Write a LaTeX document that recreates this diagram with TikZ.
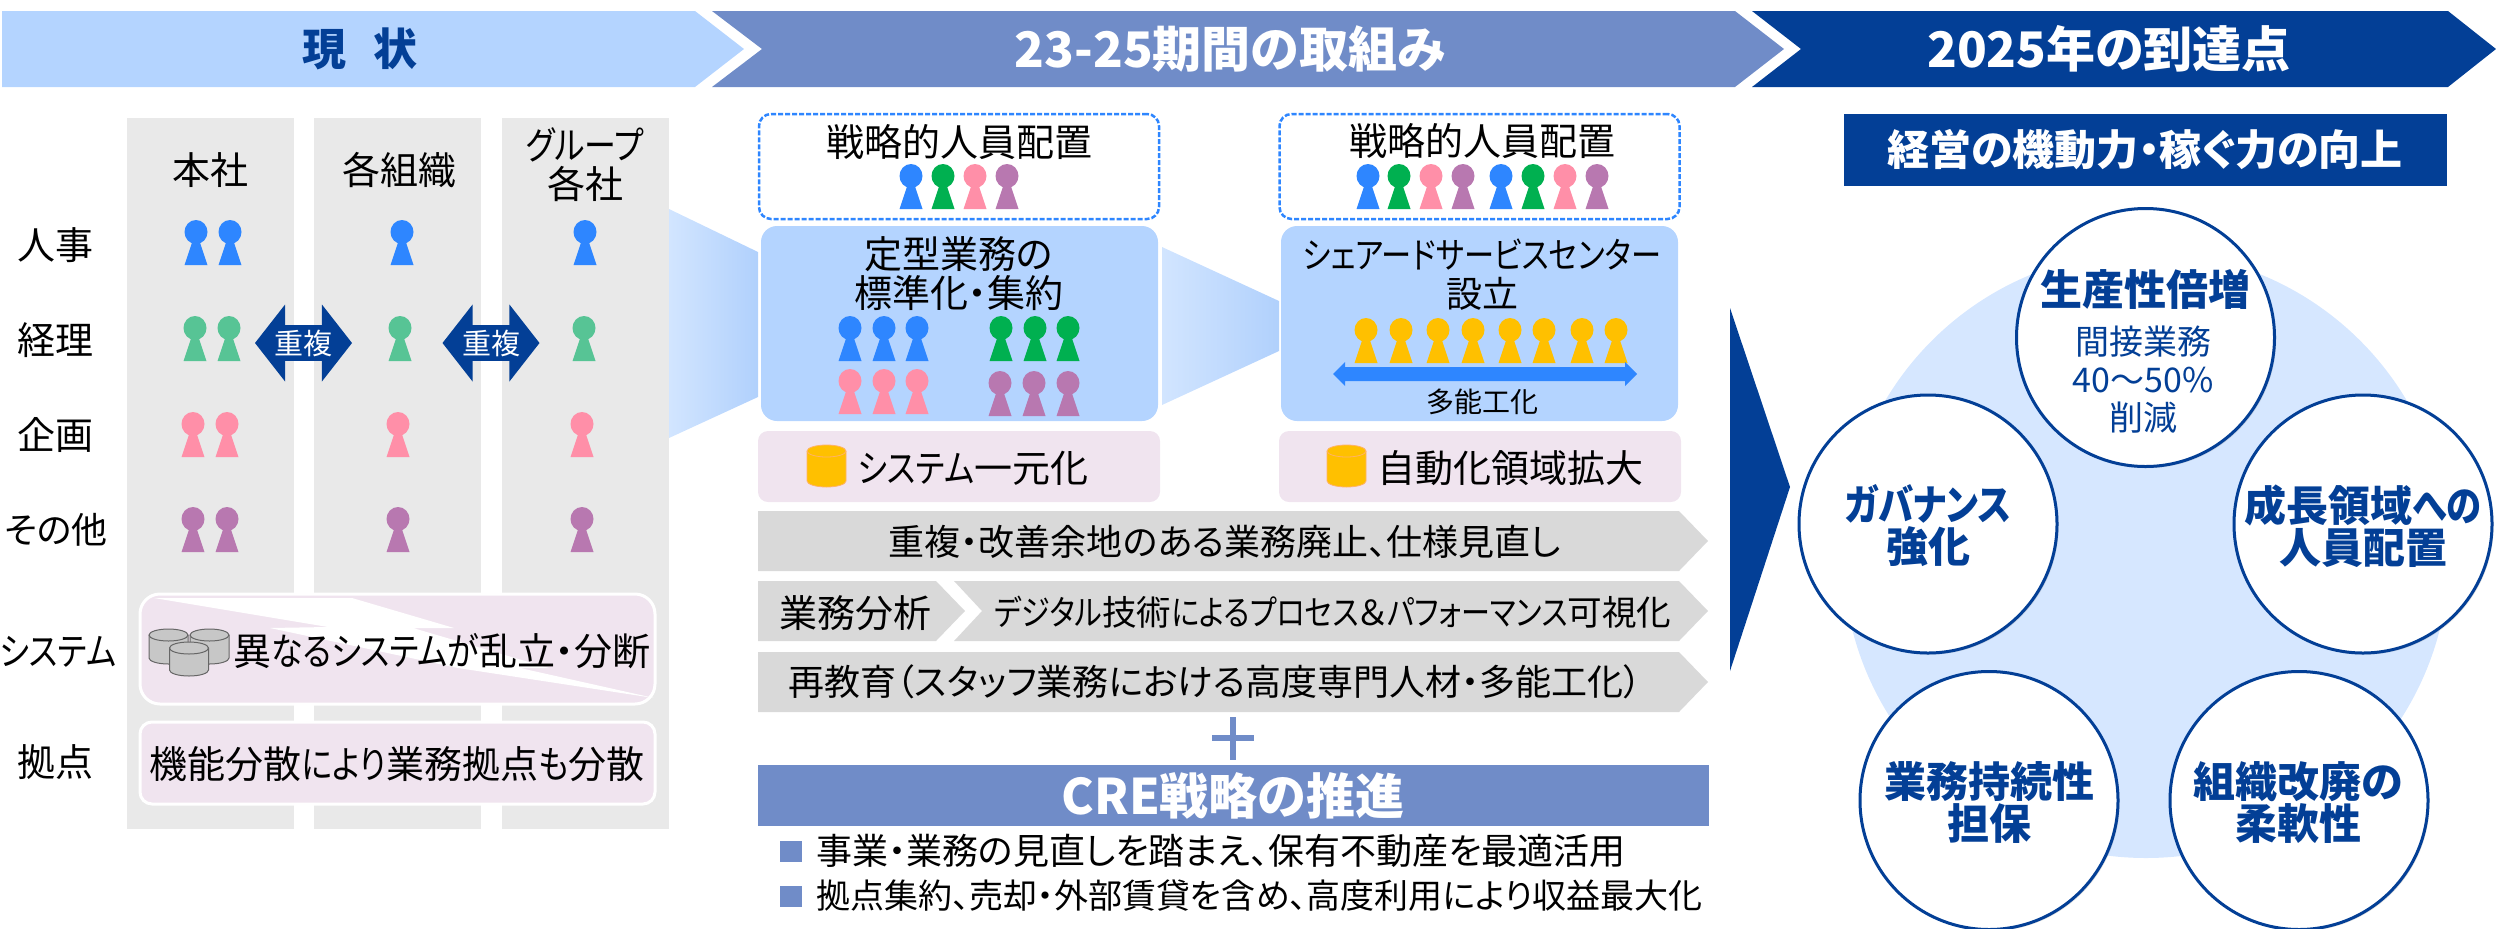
\documentclass[tikz,border=0pt]{standalone}
\usepackage{fontspec}
\setmainfont[RawFeature=+palt]{Noto Sans CJK JP}
\newfontfamily\kanafont[RawFeature=+palt, FakeStretch=0.84]{Noto Sans CJK JP}
\newcommand{\kn}[1]{{\kanafont #1}}
\usetikzlibrary{positioning, shapes.geometric, shapes.arrows, shadows}

\definecolor{hdlight}{HTML}{B4D4FF}
\definecolor{hdmid}{HTML}{708CC8}
\definecolor{hddark}{HTML}{033F96}
\definecolor{colgray}{HTML}{E9E9E9}
\definecolor{barpink}{HTML}{F0E4EF}
\definecolor{bargray}{HTML}{D9D9D9}
\definecolor{pblue}{HTML}{2E86FF}
\definecolor{pgreen}{HTML}{57C495}
\definecolor{pgreenb}{HTML}{00B050}
\definecolor{ppink}{HTML}{FF8FA8}
\definecolor{ppurple}{HTML}{B878B0}
\definecolor{pyellow}{HTML}{FFC000}

\begin{document}
\begin{tikzpicture}[x=0.5pt, y=-0.5pt]
\tikzset{
  lab/.style={inner sep=0pt, align=center, font=\fontsize{18}{19.5}\selectfont},
  labbig/.style={lab, font=\fontsize{19}{19.5}\selectfont},
  labsmall/.style={lab, font=\fontsize{14}{15}\selectfont},
  headtxt/.style={inner sep=0pt, font=\bfseries\fontsize{24.5}{25}\selectfont},
  goal/.style={inner sep=0pt, align=center, text=hddark, font=\bfseries\fontsize{21}{21}\selectfont},
  goalsub/.style={inner sep=0pt, align=center, text=hddark, font=\fontsize{17}{19}\selectfont},
  col/.style={fill=colgray, minimum width=83.5pt, minimum height=355.5pt, inner sep=0pt},
  pinkbox/.style={fill=barpink, rounded corners=5pt, minimum width=201pt, minimum height=35.5pt, inner sep=0pt},
  sysbox/.style={draw=white, line width=1.5pt, fill=barpink, minimum width=257.5pt, inner sep=0pt},
  bluebox/.style={fill=hdlight, rounded corners=8pt, minimum width=198.5pt, minimum height=97.5pt, inner sep=0pt},
  dashbox/.style={draw=pblue, line width=1.25pt, dash pattern=on 2.5pt off 1pt, rounded corners=6pt,
    minimum width=200pt, minimum height=52.5pt, inner sep=0pt},
  goalcirc/.style={circle, draw=hddark, line width=1.5pt, fill=white, minimum size=129pt, inner sep=0pt,
    drop shadow={opacity=0.25, shadow xshift=0.8pt, shadow yshift=-0.8pt}},
  dup/.style={double arrow, fill=hddark, text=white, inner sep=0pt, minimum height=48.5pt, minimum width=38.5pt,
    double arrow head extend=8pt, double arrow tip angle=104, font=\fontsize{14.5}{15}\selectfont},
  dbcan/.style={draw=black!60, line width=0.5pt, fill=black!22},
  goldcan/.style={draw=orange!60, line width=0.4pt, fill=pyellow},
  person/.pic={
    \path[pic actions] (0,12) ellipse [x radius=11.5, y radius=12];
    \path[pic actions] (-3.5,21) -- (3.5,21) -- (11.5,45) -- (-11.5,45) -- cycle;
  },
  can/.pic={
    \path[pic actions] (-19.5,6) -- (-19.5,6+#1) arc [start angle=180, end angle=0, x radius=19.5, y radius=6]
      -- (19.5,6) arc [start angle=0, end angle=-180, x radius=19.5, y radius=6] -- cycle;
    \path[pic actions] (-19.5,6) arc [start angle=180, end angle=0, x radius=19.5, y radius=6];
  }
}
\useasboundingbox (0,0) rectangle (2496,928);

% Header arrows
\fill[hdlight] (2,11) -- (695,11) -- (744,49) -- (695,87) -- (2,87) -- cycle;
\fill[hdmid] (712,11) -- (1735,11) -- (1784,49) -- (1735,87) -- (712,87) -- (762,49) -- cycle;
\fill[hddark] (1752,11) -- (2448,11) -- (2496,49) -- (2448,87) -- (1752,87) -- (1801,49) -- cycle;
\node[headtxt, text=hddark, font=\bfseries\fontsize{22}{24}\selectfont] (hdnow) at (360,49) {現\hspace{14pt}状};
\node[headtxt, text=white] (hdplan) at (1230,49) {23-25期間の取組み};
\node[headtxt, text=white] (hdgoal) at (2109,49) {2025年の到達点};

% Columns
\node[col] (colhq) at (210.5,473.5) {};
\node[col] (colorg) at (397.5,473.5) {};
\node[col] (colgrp) at (585.5,473.5) {};
\node[labbig] (lblhq) at (210,170) {本社};
\node[labbig] (lblorg) at (399,170) {各組織};
\node[labbig] (lblgrp) at (585,165) {\kn{グループ}\\各社};

% Row labels
\node[labbig] (rowhr) at (56,245) {人事};
\node[labbig] (rowacc) at (56,340) {経理};
\node[labbig] (rowplan) at (56,435) {企画};
\node[lab] (rowother) at (56,530) {その他};
\node[labbig] (rowsys) at (58,652) {\kn{システム}};
\node[labbig] (rowsite) at (56,762) {拠点};

% People, current state
\pic[fill=pblue] at (196,220) {person}; \pic[fill=pblue] at (230,220) {person};
\pic[fill=pblue] at (402,220) {person}; \pic[fill=pblue] at (585,220) {person};
\pic[fill=pgreen] at (195,316) {person}; \pic[fill=pgreen] at (229,316) {person};
\pic[fill=pgreen] at (400,316) {person}; \pic[fill=pgreen] at (584,316) {person};
\pic[fill=ppink] at (193,412) {person}; \pic[fill=ppink] at (227,412) {person};
\pic[fill=ppink] at (398,412) {person}; \pic[fill=ppink] at (582,412) {person};
\pic[fill=ppurple] at (193,507) {person}; \pic[fill=ppurple] at (227,507) {person};
\pic[fill=ppurple] at (398,507) {person}; \pic[fill=ppurple] at (582,507) {person};

% Overlap arrows
\node[dup] (dupa) at (303.5,343) {重複};
\node[dup] (dupb) at (491,343) {重複};

% System and site boxes
\node[sysbox, rounded corners=10pt, minimum height=55pt] (sysbar) at (397.5,649) {};
\fill[white] (154,598) -- (352,598) -- (454,628) -- (413,628) -- (549,668) -- (520,668) -- (654,698)
  -- (458,668) -- (270,628) -- (328,627) -- cycle;
\pic[dbcan] at (168.5,629) {can=23};
\pic[dbcan] at (209.5,629) {can=23};
\pic[dbcan] at (189,642) {can=22};
\node[labbig] (systxt) at (442,651) {異\kn{なるシステムが}乱立・分断};
\node[sysbox, rounded corners=6pt, minimum height=41pt] (sitebar) at (397.5,763) {};
\node[labbig] (sitetxt) at (397,764) {機能分散\kn{により}業務拠点\kn{も}分散};

% Gradient arrows between stages
\shade[left color=hdlight!60!white, right color=hdlight!95!hdmid] (669,209) -- (758,252) -- (758,397) -- (669,438) -- cycle;
\shade[left color=hdlight!60!white, right color=hdlight!95!hdmid] (1162,247) -- (1279,301) -- (1279,351) -- (1162,405) -- cycle;

% Staffing boxes
\node[dashbox] (staffa) at (959,166.5) {};
\node[dashbox] (staffb) at (1479.5,166.5) {};
\node[labbig] (stafftxta) at (959,142) {戦略的人員配置};
\node[labbig] (stafftxtb) at (1482,141) {戦略的人員配置};
\pic[fill=pblue] at (911,164) {person}; \pic[fill=pgreenb] at (943,164) {person};
\pic[fill=ppink] at (975,164) {person}; \pic[fill=ppurple] at (1007,164) {person};
\pic[fill=pblue] at (1368,164) {person}; \pic[fill=pgreenb] at (1399,164) {person};
\pic[fill=ppink] at (1431,164) {person}; \pic[fill=ppurple] at (1463,164) {person};
\pic[fill=pblue] at (1501,164) {person}; \pic[fill=pgreenb] at (1533,164) {person};
\pic[fill=ppink] at (1565,164) {person}; \pic[fill=ppurple] at (1597,164) {person};

% Standardisation box
\node[bluebox] (stdbox) at (959.5,323.5) {};
\node[labbig] (stdtxt) at (958.5,273.5) {定型業務の\\標準化・集約};
\pic[fill=pblue] at (850,316) {person}; \pic[fill=pblue] at (884,316) {person}; \pic[fill=pblue] at (917,316) {person};
\pic[fill=pgreenb] at (1001,316) {person}; \pic[fill=pgreenb] at (1035,316) {person}; \pic[fill=pgreenb] at (1068,316) {person};
\pic[fill=ppink] at (850,369) {person}; \pic[fill=ppink] at (884,369) {person}; \pic[fill=ppink] at (917,369) {person};
\pic[fill=ppurple] at (1000,371) {person}; \pic[fill=ppurple] at (1034,371) {person}; \pic[fill=ppurple] at (1068,371) {person};

% Shared service box
\node[bluebox] (ssbox) at (1479.5,323.5) {};
\node[lab] (sstxt) at (1482,274.5) {\kn{シェアードサービスセンター}\\設立};
\pic[fill=pyellow] at (1366,318) {person}; \pic[fill=pyellow] at (1401,318) {person};
\pic[fill=pyellow] at (1438,318) {person}; \pic[fill=pyellow] at (1473,318) {person};
\pic[fill=pyellow] at (1510,318) {person}; \pic[fill=pyellow] at (1544,318) {person};
\pic[fill=pyellow] at (1582,318) {person}; \pic[fill=pyellow] at (1616,318) {person};
\fill[pblue] (1333,374) -- (1345,362) -- (1345,367) -- (1625,367) -- (1625,362) -- (1637,374)
  -- (1625,386) -- (1625,381) -- (1345,381) -- (1345,386) -- cycle;
\node[labsmall] (multitxt) at (1482,402) {多能工化};

% System bars
\node[pinkbox] (unibar) at (959,466.5) {};
\node[pinkbox] (autobar) at (1480,466.5) {};
\pic[goldcan] at (826.5,445) {can=30};
\pic[goldcan] at (1346.5,445) {can=30};
\node[labbig] (unitxt) at (973,468) {\kn{システム}一元化};
\node[labbig] (autotxt) at (1510,468) {自動化領域拡大};

% Gray process bars
\fill[bargray] (758,511) -- (1679,511) -- (1708,541) -- (1679,571) -- (758,571) -- cycle;
\fill[bargray] (758,581) -- (936,581) -- (965,611) -- (936,641) -- (758,641) -- cycle;
\fill[bargray] (954,581) -- (1679,581) -- (1708,611) -- (1679,641) -- (954,641) -- (982,611) -- cycle;
\fill[bargray] (758,652) -- (1679,652) -- (1708,682) -- (1679,712) -- (758,712) -- cycle;
\node[lab] (bartxta) at (1225,542) {重複・改善余地のある業務廃止、仕様見直し};
\node[labbig] (bartxtb) at (855,613) {業務分析};
\node[lab, font=\fontsize{17.3}{18}\selectfont] (bartxtc) at (1333,612) {\kn{デジタル}技術\kn{によるプロセス}＆\kn{パフォーマンス}可視化};
\node[lab] (bartxtd) at (1215,682) {再教育（スタッフ業務における高度専門人材・多能工化）};

% Plus sign
\draw[hdmid, line width=3.4pt] (1212,738) -- (1254,738);
\draw[hdmid, line width=3.4pt] (1233,717) -- (1233,760);

% CRE strategy
\node[fill=hdmid, minimum width=475.5pt, minimum height=30.5pt, inner sep=0pt] (crebar) at (1233.5,795.5) {};
\node[headtxt, text=white] (cretxt) at (1233,796) {CRE戦略の推進};
\fill[hdmid] (780,841) rectangle (802,862);
\fill[hdmid] (780,886) rectangle (802,907);
\node[lab, anchor=west] (cretxta) at (816,851) {事業・業務の見直しを踏まえ、保有不動産を最適活用};
\node[lab, font=\fontsize{17}{18}\selectfont, anchor=west] (cretxtb) at (816,896) {拠点集約、売却・外部賃貸を含め、高度利用により収益最大化};

% Big arrow
\fill[hddark] (1730,308) -- (1790,487) -- (1730,671) -- cycle;

% Goal title
\node[fill=hddark, minimum width=301.5pt, minimum height=36pt, inner sep=0pt] (goalbar) at (2145.5,150) {};
\node[text=white, inner sep=0pt, font=\bfseries\fontsize{21}{21}\selectfont] (goaltxt) at (2145,150) {経営の機動力・稼ぐ力の向上};

% Goal circles
\node[circle, fill=hdlight!55!white, minimum size=303pt, inner sep=0pt] (goalbg) at (2146,555) {};
\node[goalcirc] (gprod) at (2145.5,337.5) {};
\node[goalcirc] (ggrow) at (2363,524) {};
\node[goalcirc] (ggov) at (1928,524) {};
\node[goalcirc] (gcont) at (1989,800.5) {};
\node[goalcirc] (gflex) at (2299,800.5) {};
\node[goal] (gprodtxt) at (2145,289) {生産性倍増};
\node[goalsub] (gprodsub) at (2143,380) {間接業務\\40〜50\%\\削減};
\node[goal] (ggrowtxt) at (2363,526) {成長領域\kn{への}\\人員配置};
\node[goal] (ggovtxt) at (1928,526) {\kn{ガバナンス}\\強化};
\node[goal] (gconttxt) at (1989,803) {業務持続性\\担保};
\node[goal] (gflextxt) at (2298,803) {組織改廃の\\柔軟性};

\end{tikzpicture}
\end{document}
